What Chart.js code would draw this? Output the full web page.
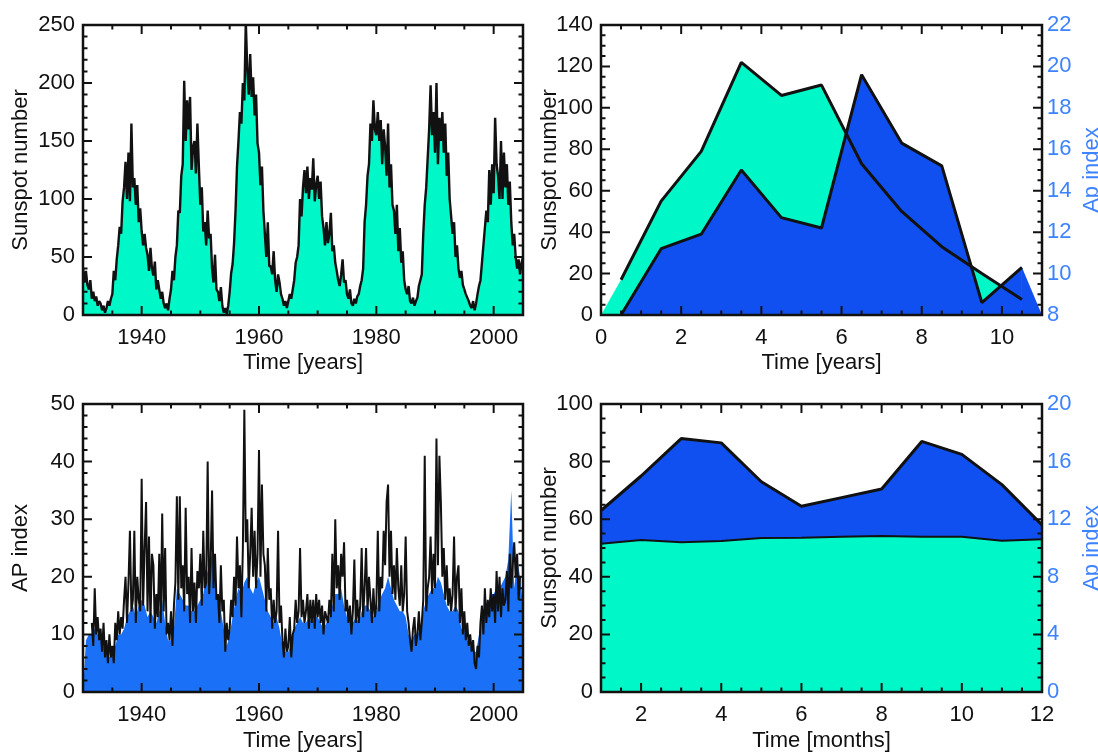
<!DOCTYPE html>
<html>
<head>
<meta charset="utf-8">
<script src="https://cdn.jsdelivr.net/npm/chart.js@4.4.1/dist/chart.umd.min.js"></script>
<style>
  html, body { margin: 0; padding: 0; background: #fff; }
  #wrap { position: relative; width: 1098px; height: 752px; overflow: hidden; background: #fff; }
  #wrap canvas { position: absolute; left: 0; top: 0; }
</style>
</head>
<body>
<div id="wrap">
  <canvas id="c1" width="1098" height="752"></canvas>
  <canvas id="c2" width="1098" height="752"></canvas>
  <canvas id="c3" width="1098" height="752"></canvas>
  <canvas id="c4" width="1098" height="752"></canvas>
</div>
<script>
// ---- top left: monthly-ish sunspot number, sampled every quarter from 1930.0
const ssnStart = 1930, ssnStep = 0.25;
const ssnQuarterly = [
  40, 28, 38, 26,   22, 30, 14, 20,   12, 16, 8, 12,    10, 4, 8, 2,      // 1930-33
  6, 12, 8, 14,     18, 38, 30, 48,   60, 76, 70, 98,   110, 132, 100, 140, // 1934-37
  98, 165, 110, 118, 95, 112, 80, 92, 72, 60, 70, 58,   52, 38, 58, 40,   // 1938-41
  34, 46, 22, 30,   22, 14, 20, 10,   6, 10, 4, 14,     22, 38, 30, 50,   // 1942-45
  60, 90, 88, 120,  130, 202, 150, 185, 160, 188, 125, 145, 150, 122, 165, 128, // 1946-49
  95, 110, 72, 80,  60, 90, 66, 70,   40, 28, 52, 22,   20, 12, 24, 8,    // 1950-53
  2, 6, 1, 8,       20, 36, 44, 62,   90, 128, 150, 175, 165, 200, 185, 253, // 1954-57
  212, 190, 225, 188, 205, 172, 190, 148, 140, 112, 128, 90, 70, 50, 80, 42, // 1958-61
  42, 35, 55, 30,   20, 35, 28, 18,   14, 8, 12, 6,     12, 18, 14, 22,   // 1962-65
  30, 45, 50, 60,   100, 85, 110, 125, 105, 128, 100, 118, 108, 135, 98, 112, // 1966-69
  120, 100, 115, 85, 75, 60, 80, 62,  70, 88, 55, 60,   45, 38, 30, 25,   // 1970-73
  35, 48, 28, 30,   18, 14, 22, 10,   8, 14, 10, 16,    18, 25, 30, 40,   // 1974-77
  80, 95, 120, 130, 165, 150, 185, 160, 155, 175, 150, 168, 130, 160, 145, 120, // 1978-81
  165, 110, 130, 95, 90, 70, 95, 55,  75, 45, 55, 30,   22, 18, 25, 12,   // 1982-85
  10, 15, 8, 12,    15, 25, 30, 35,   70, 95, 110, 135, 160, 198, 155, 175, // 1986-89
  140, 200, 130, 170, 150, 175, 140, 165, 120, 140, 100, 85, 70, 80, 50, 60, // 1990-93
  40, 32, 38, 26,   22, 18, 15, 12,   8, 6, 12, 4,      10, 18, 25, 30,   // 1994-97
  45, 60, 75, 90,   80, 125, 95, 130, 105, 170, 130, 120, 100, 150, 100, 140, // 1998-2001
  110, 130, 95, 115, 80, 60, 70, 50,  40, 48, 35, 45,   50                // 2002-2005.0
];
const p1XTicks = [1940, 1960, 1980, 2000];
const p1YTicks = [0, 50, 100, 150, 200, 250];

// ---- bottom left: Ap index, black trace every quarter from 1931.5, blue fill every half year from 1930.0
const apLineStart = 1931.5, apLineStep = 0.25;
const apLine = [
  12, 8,
  18, 10, 13, 9,   11, 7, 12, 6,    9, 5, 10, 6,     8, 5, 12, 9,      // 1932-35
  14, 10, 13, 11,  16, 20, 12, 19,  28, 14, 16, 28,  12, 20, 16, 14,   // 1936-39
  37, 15, 25, 33,  14, 27, 12, 24,  22, 11, 17, 13,  24, 12, 31, 14,   // 1940-43
  25, 10, 12, 9,   14, 8, 15, 19,   34, 16, 34, 18,  22, 14, 32, 17,   // 1944-47
  20, 12, 25, 14,  19, 12, 21, 18,  24, 15, 28, 18,  19, 40, 17, 22,   // 1948-51
  35, 18, 24, 16,  17, 12, 22, 14,  16, 7, 12, 9,    11, 16, 13, 20,   // 1952-55
  15, 27, 18, 22,  13, 25, 49, 26,  30, 18, 24, 32,  20, 28, 18, 24,   // 1956-59
  42, 20, 36, 24,  22, 14, 25, 16,  18, 11, 16, 12,  14, 28, 12, 15,   // 1960-63
  9, 6, 11, 7,     8, 13, 6, 10,    11, 16, 12, 14,  25, 13, 16, 12,   // 1964-67
  14, 17, 11, 16,  12, 16, 11, 17,  13, 16, 12, 15,  10, 14, 13, 12,   // 1968-71
  16, 13, 24, 14,  30, 18, 22, 16,  24, 20, 26, 14,  16, 12, 15, 10,   // 1972-75
  14, 23, 12, 16,  12, 15, 25, 13,  18, 25, 14, 20,  16, 12, 18, 13,   // 1976-79
  15, 28, 14, 20,  18, 28, 22, 33,  36, 20, 28, 17,  22, 16, 25, 18,   // 1980-83
  15, 22, 14, 17,  27, 14, 12, 9,   7, 11, 13, 8,    10, 14, 9, 12,    // 1984-87
  16, 41, 14, 18,  20, 27, 17, 24,  18, 44, 22, 41,  33, 20, 25, 16,   // 1988-91
  22, 15, 18, 14,  17, 27, 14, 20,  22, 12, 18, 10,  14, 9, 12, 8,     // 1992-95
  10, 7, 9, 5,     4, 8, 6, 12,     15, 10, 18, 12,  16, 13, 18, 14,   // 1996-99
  17, 12, 21, 14,  20, 13, 18, 15,  16, 21, 14, 24,  18, 22, 26, 20,   // 2000-03
  24, 16, 20                                                            // 2004
];
const apFillStart = 1930, apFillStep = 0.5;
const apFill = [
  0, 9,   10, 10,  11, 10,  10, 8,   7, 6,    7, 8,    10, 10,  11, 13,  14, 15,  13, 15,  // 1930-39
  16, 15, 13, 14,  13, 12,  14, 16,  12, 9,   9, 11,   18, 17,  16, 15,  15, 14,  14, 15,  // 1940-49
  16, 17, 20, 22,  24, 19,  16, 14,  11, 8,   10, 13,  16, 18,  17, 19,  20, 18,  17, 19,  // 1950-59
  20, 18, 16, 14,  13, 12,  13, 11,  8, 7,    7, 9,    11, 12,  13, 12,  12, 13,  12, 13,  // 1960-69
  13, 12, 11, 12,  13, 15,  17, 17,  18, 15,  13, 12,  12, 13,  12, 14,  15, 15,  14, 13,  // 1970-79
  14, 16, 17, 18,  20, 18,  16, 15,  14, 14,  13, 10,  9, 10,   10, 11,  14, 16,  17, 18,  // 1980-89
  18, 20, 19, 17,  15, 14,  14, 15,  14, 11,  11, 9,   8, 7,    7, 10,   13, 14,  15, 17,  // 1990-99
  17, 18, 18, 19,  20, 23,  35, 18,  23, 20,  15                                          // 2000-2005.0
];
const p3XTicks = [1940, 1960, 1980, 2000];
const p3YTicks = [0, 10, 20, 30, 40, 50];

// ---- top right: solar-cycle composite (years into cycle)
const p2Years = [0, 0.5, 1.5, 2.5, 3.5, 4.5, 5.5, 6.5, 7.5, 8.5, 9.5, 10.5, 11];
const p2Sunspot = [0, 17, 55, 79, 122, 106, 111, 73, 50, 33, 20, 7.5, 0];
const p2Ap = [8, 8, 11.2, 11.9, 15.0, 12.7, 12.2, 19.6, 16.3, 15.2, 8.6, 10.3, 8];
const p2XTicks = [0, 2, 4, 6, 8, 10];
const p2YTicks = [0, 20, 40, 60, 80, 100, 120, 140];
const p2Y2Ticks = [8, 10, 12, 14, 16, 18, 20, 22];

// ---- bottom right: monthly averages
const p4Months = [1, 2, 3, 4, 5, 6, 7, 8, 9, 10, 11, 12];
const p4Sunspot = [51.5, 52.8, 52.0, 52.4, 53.5, 53.6, 53.9, 54.2, 53.9, 53.9, 52.5, 53.0];
const p4Ap = [12.6, 15.0, 17.6, 17.3, 14.6, 12.9, 13.5, 14.1, 17.4, 16.5, 14.4, 11.6];
const p4XTicks = [2, 4, 6, 8, 10, 12];
const p4YTicks = [0, 20, 40, 60, 80, 100];
const p4Y2Ticks = [0, 4, 8, 12, 16, 20];

const FONT = "'Liberation Sans', Arial, Helvetica, sans-serif";
const INK = '#111111';
const TEAL = '#00f8c8';
const BLUE = '#1050f0';
const AP_BLUE = '#1a70f6';
const AXIS_BLUE = '#3d82ff';

Chart.defaults.font.family = FONT;
Chart.defaults.color = INK;

function series(xs, ys) {
    return ys.map((v, i) => ({x: xs[i], y: v}));
}
function sampled(start, step, ys) {
    return ys.map((v, i) => ({x: start + i * step, y: v}));
}

function axis(o) {
    const horizontal = o.position === 'bottom';
    return {
        type: 'linear',
        position: o.position,
        min: o.min,
        max: o.max,
        grid: {display: false, drawTicks: false},
        border: {display: false},
        afterBuildTicks: s => { s.ticks = o.ticks.map(v => ({value: v})); },
        afterFit: s => { if (horizontal) s.height = o.size; else s.width = o.size; },
        ticks: {
            autoSkip: false,
            maxRotation: 0,
            padding: o.pad,
            color: o.color || INK,
            font: {size: 22, lineHeight: 1},
            callback: v => String(v)
        },
        title: o.title ? {
            display: true, text: o.title, color: INK,
            font: {size: 22, lineHeight: 1},
            padding: o.titlePad
        } : {display: false}
    };
}

// frame with IDL style inward ticks on all four sides, plus the right hand title
const framePlugin = {
    id: 'frame',
    afterDatasetsDraw(chart, args, o) {
        const {ctx, chartArea: a, scales} = chart;
        const right = scales.y2 || scales.y;
        ctx.save();
        ctx.strokeStyle = INK;
        ctx.lineWidth = 2;
        function marks(scale, step, draw) {
            const n = Math.round((scale.max - scale.min) / step);
            const majors = scale.ticks.map(t => t.value);
            for (let k = 1; k < n; k++) {
                const v = scale.min + k * step;
                const major = majors.some(m => Math.abs(m - v) < 1e-6);
                draw(scale.getPixelForValue(v), major ? 9 : 4.5);
            }
            majors.forEach(m => {
                if (m > scale.min && m < scale.max) draw(scale.getPixelForValue(m), 9);
            });
        }
        ctx.beginPath();
        marks(scales.x, o.xMinor, (p, len) => {
            ctx.moveTo(p, a.bottom); ctx.lineTo(p, a.bottom - len);
            ctx.moveTo(p, a.top); ctx.lineTo(p, a.top + len);
        });
        marks(scales.y, o.yMinor, (p, len) => {
            ctx.moveTo(a.left, p); ctx.lineTo(a.left + len, p);
        });
        marks(right, o.rMinor, (p, len) => {
            ctx.moveTo(a.right, p); ctx.lineTo(a.right - len, p);
        });
        ctx.stroke();
        ctx.lineWidth = 2.5;
        ctx.strokeRect(a.left, a.top, a.right - a.left, a.bottom - a.top);
        if (o.rightTitle) {
            ctx.translate(o.rightTitleX, (a.top + a.bottom) / 2);
            ctx.rotate(-Math.PI / 2);
            ctx.fillStyle = AXIS_BLUE;
            ctx.font = '22px ' + FONT;
            ctx.textAlign = 'center';
            ctx.textBaseline = 'middle';
            ctx.fillText(o.rightTitle, 0, 0);
        }
        ctx.restore();
    }
};

function baseOptions(padding, scales, frame, fillTime) {
    return {
        responsive: false,
        animation: false,
        devicePixelRatio: 1,
        layout: {padding: padding},
        scales: scales,
        elements: {point: {radius: 0}, line: {tension: 0, borderJoinStyle: 'bevel'}},
        plugins: {
            legend: {display: false},
            tooltip: {enabled: false},
            filler: {drawTime: fillTime || 'beforeDatasetDraw'},
            frame: frame
        }
    };
}

// top left
new Chart(document.getElementById('c1'), {
    type: 'line',
    data: {datasets: [{
        data: sampled(ssnStart, ssnStep, ssnQuarterly),
        borderColor: INK, borderWidth: 2.4,
        backgroundColor: TEAL, fill: 'start'
    }]},
    options: baseOptions({left: 0, top: 25, right: 575, bottom: 378}, {
        x: axis({position: 'bottom', min: 1930, max: 2005, ticks: p1XTicks, size: 59, pad: 12,
                 title: 'Time [years]', titlePad: {top: 0, bottom: 0}}),
        y: axis({position: 'left', min: 0, max: 250, ticks: p1YTicks, size: 83, pad: 8,
                 title: 'Sunspot number', titlePad: {top: 10, bottom: 0}})
    }, {xMinor: 5, yMinor: 10, rMinor: 10}),
    plugins: [framePlugin]
});

// bottom left
new Chart(document.getElementById('c3'), {
    type: 'line',
    data: {datasets: [{
        data: sampled(apLineStart, apLineStep, apLine),
        borderColor: INK, borderWidth: 2, fill: false
    }, {
        data: sampled(apFillStart, apFillStep, apFill),
        borderWidth: 0, borderColor: 'rgba(0,0,0,0)',
        backgroundColor: AP_BLUE, fill: 'start'
    }]},
    options: baseOptions({left: 0, top: 404, right: 575, bottom: 0}, {
        x: axis({position: 'bottom', min: 1930, max: 2005, ticks: p3XTicks, size: 60, pad: 12,
                 title: 'Time [years]', titlePad: {top: 0, bottom: 0}}),
        y: axis({position: 'left', min: 0, max: 50, ticks: p3YTicks, size: 83, pad: 8,
                 title: 'AP index', titlePad: {top: 10, bottom: 0}})
    }, {xMinor: 5, yMinor: 2, rMinor: 2}),
    plugins: [framePlugin]
});

// top right: blue over teal, black outlines on top of both
const p2Last = p2Years.length - 1;
const p2Edge = c => (c.p0DataIndex === 0 || c.p1DataIndex === p2Last) ? 'rgba(0,0,0,0)' : INK;
new Chart(document.getElementById('c2'), {
    type: 'line',
    data: {datasets: [{
        data: series(p2Years, p2Ap), yAxisID: 'y2',
        borderColor: INK, borderWidth: 3, backgroundColor: BLUE, fill: 'start',
        segment: {borderColor: p2Edge}
    }, {
        data: series(p2Years, p2Sunspot), yAxisID: 'y',
        borderColor: INK, borderWidth: 3, backgroundColor: TEAL, fill: 'start',
        segment: {borderColor: p2Edge}
    }]},
    options: baseOptions({left: 539, top: 25, right: 0, bottom: 378}, {
        x: axis({position: 'bottom', min: 0, max: 11, ticks: p2XTicks, size: 59, pad: 12,
                 title: 'Time [years]', titlePad: {top: 0, bottom: 0}}),
        y: axis({position: 'left', min: 0, max: 140, ticks: p2YTicks, size: 62, pad: 8,
                 title: 'Sunspot number', titlePad: {top: 0, bottom: 0}}),
        y2: axis({position: 'right', min: 8, max: 22, ticks: p2Y2Ticks, size: 56, pad: 5,
                  color: AXIS_BLUE})
    }, {xMinor: 0.5, yMinor: 5, rMinor: 0.5, rightTitle: 'Ap index', rightTitleX: 1092},
       'beforeDatasetsDraw'),
    plugins: [framePlugin]
});

// bottom right: teal over blue
new Chart(document.getElementById('c4'), {
    type: 'line',
    data: {datasets: [{
        data: series(p4Months, p4Sunspot), yAxisID: 'y',
        borderColor: INK, borderWidth: 2, backgroundColor: TEAL, fill: 'start'
    }, {
        data: series(p4Months, p4Ap), yAxisID: 'y2',
        borderColor: INK, borderWidth: 3, backgroundColor: BLUE, fill: 'start'
    }]},
    options: baseOptions({left: 539, top: 404, right: 0, bottom: 0}, {
        x: axis({position: 'bottom', min: 1, max: 12, ticks: p4XTicks, size: 60, pad: 12,
                 title: 'Time [months]', titlePad: {top: 0, bottom: 0}}),
        y: axis({position: 'left', min: 0, max: 100, ticks: p4YTicks, size: 62, pad: 8,
                 title: 'Sunspot number', titlePad: {top: 0, bottom: 0}}),
        y2: axis({position: 'right', min: 0, max: 20, ticks: p4Y2Ticks, size: 56, pad: 5,
                  color: AXIS_BLUE})
    }, {xMinor: 0.5, yMinor: 5, rMinor: 1, rightTitle: 'Ap index', rightTitleX: 1092},
       'beforeDatasetsDraw'),
    plugins: [framePlugin]
});
</script>
</body>
</html>
